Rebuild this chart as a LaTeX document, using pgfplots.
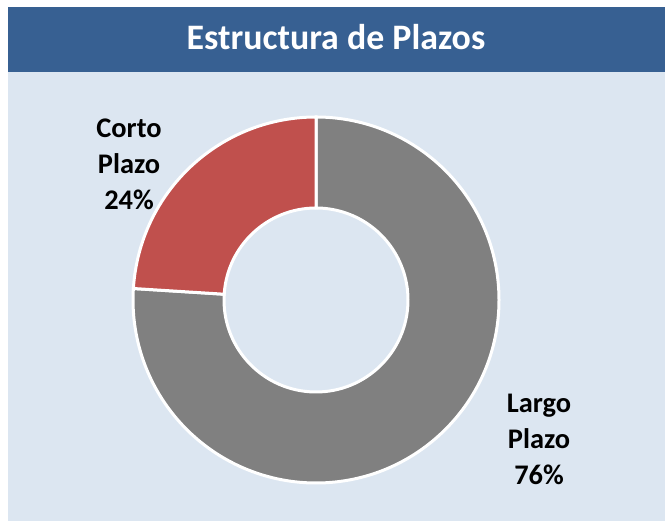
\documentclass[border=0pt]{standalone}
\usepackage{pgfplots}
\usepackage{pgfplotstable}
\pgfplotsset{compat=1.18}
\usepackage{fontspec}
\setmainfont{Carlito}
\definecolor{titleblue}{HTML}{376092}
\definecolor{bgblue}{HTML}{DCE6F1}
\definecolor{slicegray}{HTML}{808080}
\definecolor{slicered}{HTML}{C0504D}
\pgfplotstableread{
name value
Largo 76
Corto 24
}\datatable
\begin{document}
\begin{tikzpicture}
\pgfplotstablegetelem{0}{value}\of\datatable \edef\va{\pgfplotsretval}
\pgfplotstablegetelem{1}{value}\of\datatable \edef\vb{\pgfplotsretval}
\pgfmathsetmacro\angS{90}
\pgfmathsetmacro\angA{90-3.6*\va}
\pgfmathsetmacro\angB{\angA-3.6*\vb}
\begin{axis}[
  scale only axis, width=665bp, height=522bp,
  xmin=0, xmax=665, ymin=0, ymax=522,
  hide axis, clip=false,
]
% backgrounds
\fill[white] (axis cs:0,0) rectangle (axis cs:665,522);
\fill[bgblue] (axis cs:8,1) rectangle (axis cs:665,450);
\fill[titleblue] (axis cs:8,450) rectangle (axis cs:665,515);
% invisible data plot to tie to the table
\addplot[draw=none, mark=none] table[x expr=\coordindex, y=value] {\datatable};
% slices
\fill[slicegray, draw=white, line width=3bp]
  ([shift={(\angS:183bp)}]axis cs:316,222) arc[start angle=\angS, end angle=\angA, radius=183bp]
  -- ([shift={(\angA:92bp)}]axis cs:316,222) arc[start angle=\angA, end angle=\angS, radius=92bp] -- cycle;
\fill[slicered, draw=white, line width=3bp]
  ([shift={(\angA:183bp)}]axis cs:316,222) arc[start angle=\angA, end angle=\angB, radius=183bp]
  -- ([shift={(\angB:92bp)}]axis cs:316,222) arc[start angle=\angB, end angle=\angA, radius=92bp] -- cycle;
% title
\node[anchor=base, text=white, font=\fontsize{36}{40}\selectfont\bfseries] at (axis cs:336,472) {Estructura de Plazos};
% labels
\tikzset{lbl/.style={anchor=base, font=\fontsize{28.5}{32}\selectfont\bfseries}}
\node[lbl] at (axis cs:129,384) {Corto};
\node[lbl] at (axis cs:129,348) {Plazo};
\node[lbl] at (axis cs:129,312) {\vb\%};
\node[lbl] at (axis cs:539,109) {Largo};
\node[lbl] at (axis cs:539,73) {Plazo};
\node[lbl] at (axis cs:539,37) {\va\%};
\end{axis}
\end{tikzpicture}
\end{document}
